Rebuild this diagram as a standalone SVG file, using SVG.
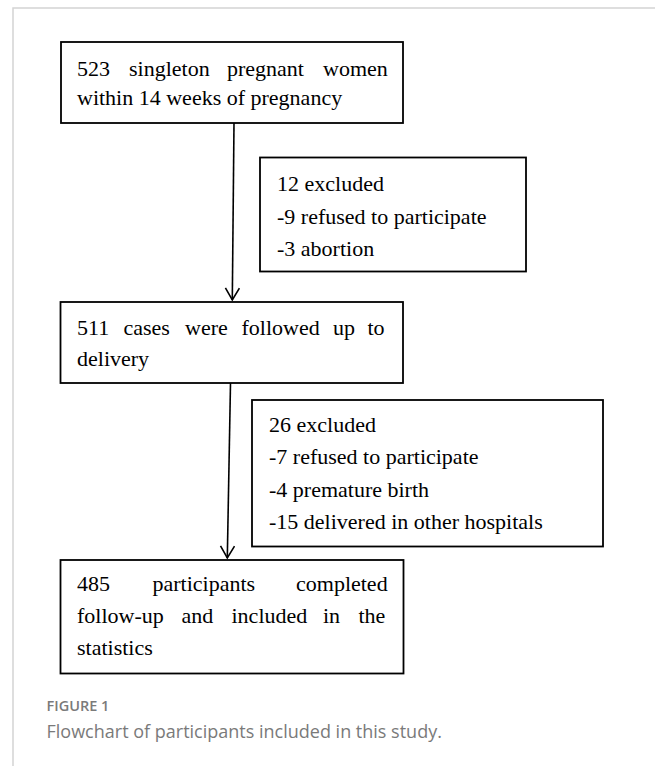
<svg xmlns="http://www.w3.org/2000/svg" width="655" height="766" viewBox="0 0 655 766">
<style>
.box{fill:#fff;stroke:#000;stroke-width:1.8}
.t{font-family:"Liberation Serif","Times New Roman",serif;font-size:22px;fill:#000}
.edge{stroke:#000;stroke-width:1.6;fill:none}
.frame{stroke:#d4d4d4;stroke-width:1.5;fill:none}
.cap1{font-family:"Open Sans","Liberation Sans",sans-serif;font-size:14.5px;font-weight:600;fill:#7a7a7a}
.cap2{font-family:"Open Sans","Liberation Sans",sans-serif;font-size:18px;fill:#7a7a7a}
</style>
<defs>
<marker id="arr" markerWidth="20" markerHeight="20" refX="13" refY="8" orient="auto" markerUnits="userSpaceOnUse">
<path d="M1,1 L13,8 L1,15" fill="none" stroke="#000" stroke-width="1.6"/>
</marker>
</defs>
<rect width="655" height="766" fill="#fff"/>
<path class="frame" d="M13,766 V8 H655"/>
<g id="connectors">
<path class="edge" d="M234,123 L232.3,300" marker-end="url(#arr)"/>
<path class="edge" d="M230.5,383 L227.3,558" marker-end="url(#arr)"/>
</g>
<g id="n1">
<rect class="box" x="61" y="42" width="342" height="81"/>
<text class="t" y="75.5"><tspan x="77">523</tspan><tspan x="129">singleton</tspan><tspan x="227">pregnant</tspan><tspan x="323">women</tspan></text>
<text class="t" x="77" y="105">within 14 weeks of pregnancy</text>
</g>
<g id="n2">
<rect class="box" x="260" y="157.5" width="266" height="114"/>
<text class="t" x="277" y="191">12 excluded</text>
<text class="t" x="277" y="223.5">-9 refused to participate</text>
<text class="t" x="277" y="256">-3 abortion</text>
</g>
<g id="n3">
<rect class="box" x="60.5" y="302" width="342.5" height="81"/>
<text class="t" y="334.5"><tspan x="77">511</tspan><tspan x="123.5">cases</tspan><tspan x="185">were</tspan><tspan x="241.5">followed</tspan><tspan x="333">up</tspan><tspan x="367.5">to</tspan></text>
<text class="t" x="77" y="366">delivery</text>
</g>
<g id="n4">
<rect class="box" x="252" y="400" width="351" height="146.5"/>
<text class="t" x="269" y="431.5">26 excluded</text>
<text class="t" x="269" y="464">-7 refused to participate</text>
<text class="t" x="269" y="496.5">-4 premature birth</text>
<text class="t" x="269" y="528.5">-15 delivered in other hospitals</text>
</g>
<g id="n5">
<rect class="box" x="60.5" y="560" width="343" height="113.5"/>
<text class="t" y="590.5"><tspan x="77">485</tspan><tspan x="152.5">participants</tspan><tspan x="296">completed</tspan></text>
<text class="t" y="623"><tspan x="77">follow-up</tspan><tspan x="181.5">and</tspan><tspan x="231.5">included</tspan><tspan x="323">in</tspan><tspan x="358.5">the</tspan></text>
<text class="t" x="77" y="655">statistics</text>
</g>
<text class="cap1" x="46.5" y="710.5">FIGURE 1</text>
<text class="cap2" x="46.5" y="737.5">Flowchart of participants included in this study.</text>
</svg>
